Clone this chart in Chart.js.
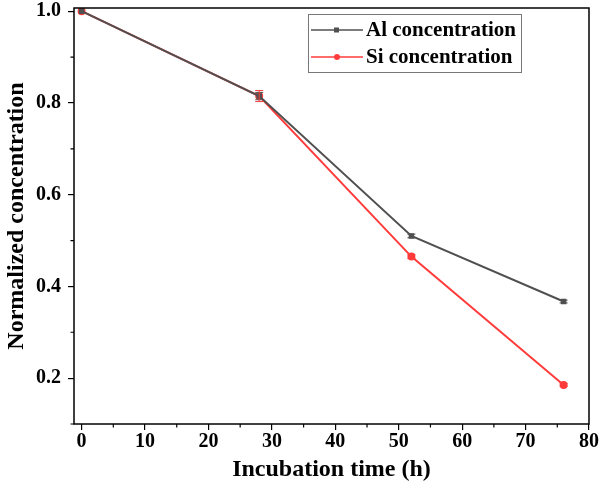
<!DOCTYPE html>
<html>
<head>
<meta charset="utf-8">
<script src="https://cdn.jsdelivr.net/npm/chart.js@4/dist/chart.umd.min.js"></script>
<style>
  html, body { margin: 0; padding: 0; background: #fff; }
  #wrap { width: 600px; height: 493px; }
</style>
</head>
<body>
<div id="wrap"><canvas id="myChart"></canvas></div>
<script>
"use strict";
var times = [0, 28, 52, 76];
var alValues = [1.0, 0.815, 0.51, 0.367];
var siValues = [1.0, 0.815, 0.465, 0.185];
var alErrors = [0, 0.008, 0.004, 0.003];
var siErrors = [0, 0.012, 0.004, 0.003];
var xTicks = [0, 10, 20, 30, 40, 50, 60, 70, 80];
var xMinor = [5, 15, 25, 35, 45, 55, 65, 75];
var yTicks = [0.2, 0.4, 0.6, 0.8, 1.0];
var yMinor = [0.1, 0.3, 0.5, 0.7, 0.9];

var FONT = "'Liberation Serif', 'Times New Roman', serif";

function pts(xs, ys) {
    return xs.map(function (x, i) { return { x: x, y: ys[i] }; });
}

var framePlugin = {
    id: "frame",
    afterDraw: function (chart) {
        var c = chart.ctx, a = chart.chartArea;
        var xs = chart.scales.x, ys = chart.scales.y;
        c.save();
        c.strokeStyle = "#000";
        c.lineWidth = 1.5;
        c.strokeRect(a.left, a.top, a.right - a.left, a.bottom - a.top);
        c.lineWidth = 1.2;
        c.beginPath();
        xMinor.forEach(function (v) {
            var px = xs.getPixelForValue(v);
            c.moveTo(px, a.bottom);
            c.lineTo(px, a.bottom + 3.5);
        });
        yMinor.forEach(function (v) {
            var py = ys.getPixelForValue(v);
            c.moveTo(a.left, py);
            c.lineTo(a.left - 3.5, py);
        });
        c.stroke();
        c.restore();
    }
};

var errorPlugin = {
    id: "errbars",
    afterDatasetsDraw: function (chart) {
        var c = chart.ctx;
        var xs = chart.scales.x, ys = chart.scales.y;
        c.save();
        chart.data.datasets.forEach(function (ds) {
            c.strokeStyle = ds.borderColor;
            c.lineWidth = 1;
            ds.data.forEach(function (p, i) {
                var e = ds.errors[i];
                if (!e) return;
                var px = xs.getPixelForValue(p.x);
                var y1 = ys.getPixelForValue(p.y + e);
                var y2 = ys.getPixelForValue(p.y - e);
                c.beginPath();
                c.moveTo(px, y1); c.lineTo(px, y2);
                c.moveTo(px - 4, y1); c.lineTo(px + 4, y1);
                c.moveTo(px - 4, y2); c.lineTo(px + 4, y2);
                c.stroke();
            });
        });
        c.restore();
    }
};

var legendPlugin = {
    id: "boxLegend",
    afterDraw: function (chart) {
        var c = chart.ctx;
        var bx = 308, by = 14, bw = 213, bh = 58;
        c.save();
        c.fillStyle = "#fff";
        c.fillRect(bx, by, bw, bh);
        c.strokeStyle = "#777";
        c.lineWidth = 1;
        c.strokeRect(bx + 0.5, by + 0.5, bw, bh);
        chart.data.datasets.forEach(function (ds, i) {
            var ly = by + 16 + i * 27;
            c.strokeStyle = ds.borderColor;
            c.lineWidth = 1.5;
            c.beginPath();
            c.moveTo(bx + 3, ly); c.lineTo(bx + 55, ly);
            c.stroke();
            c.fillStyle = ds.borderColor;
            if (ds.pointStyle === "rect") {
                c.fillRect(bx + 26, ly - 2.5, 5, 5);
            } else {
                c.beginPath();
                c.arc(bx + 29, ly, 3, 0, Math.PI * 2);
                c.fill();
            }
            c.fillStyle = "#000";
            c.font = "bold 21px " + FONT;
            c.textBaseline = "middle";
            c.fillText(ds.label, bx + 58, ly + 1);
        });
        c.restore();
    }
};

var ctx = document.getElementById("myChart").getContext("2d");
var chart = new Chart(ctx, {
    type: "line",
    data: {
        datasets: [{
            label: "Al concentration",
            data: pts(times, alValues),
            errors: alErrors,
            borderColor: "#505050",
            backgroundColor: "#505050",
            borderWidth: 2,
            pointStyle: "rect",
            pointRadius: 2.5,
            tension: 0
        }, {
            label: "Si concentration",
            data: pts(times, siValues),
            errors: siErrors,
            borderColor: "#ff3b3b",
            backgroundColor: "#ff3b3b",
            borderWidth: 2,
            pointStyle: "circle",
            pointRadius: 3,
            tension: 0
        }]
    },
    options: {
        responsive: true,
        maintainAspectRatio: false,
        animation: false,
        layout: { padding: { top: 0, right: 11, left: 0, bottom: 0 } },
        plugins: { legend: { display: false }, tooltip: { enabled: false } },
        scales: {
            x: {
                type: "linear",
                min: -1.2,
                max: 80,
                afterBuildTicks: function (s) { s.ticks = xTicks.map(function (v) { return { value: v }; }); },
                afterFit: function (s) { s.height = 69; },
                grid: { drawOnChartArea: false, drawTicks: true, tickLength: 6, color: "#000", lineWidth: 1.2 },
                border: { display: false },
                ticks: { color: "#000", font: { family: FONT, size: 20, weight: "bold" }, padding: 0, maxRotation: 0 },
                title: { display: true, text: "Incubation time (h)", color: "#000", font: { family: FONT, size: 24, weight: "bold" }, padding: { top: 4, bottom: 9 } }
            },
            y: {
                type: "linear",
                min: 0.1,
                max: 1.007,
                afterBuildTicks: function (s) { s.ticks = yTicks.map(function (v) { return { value: v }; }); },
                afterFit: function (s) { s.width = 74; s.paddingTop = 8; },
                grid: { drawOnChartArea: false, drawTicks: true, tickLength: 6, color: "#000", lineWidth: 1.2 },
                border: { display: false },
                ticks: { color: "#000", font: { family: FONT, size: 20, weight: "bold", lineHeight: 0.8 }, padding: 7, callback: function (v) { return v.toFixed(1); } },
                title: { display: true, text: "Normalized concentration", color: "#000", font: { family: FONT, size: 24, weight: "bold" }, padding: { top: 2, bottom: 2 } }
            }
        }
    },
    plugins: [framePlugin, errorPlugin, legendPlugin]
});
</script>
</body>
</html>
